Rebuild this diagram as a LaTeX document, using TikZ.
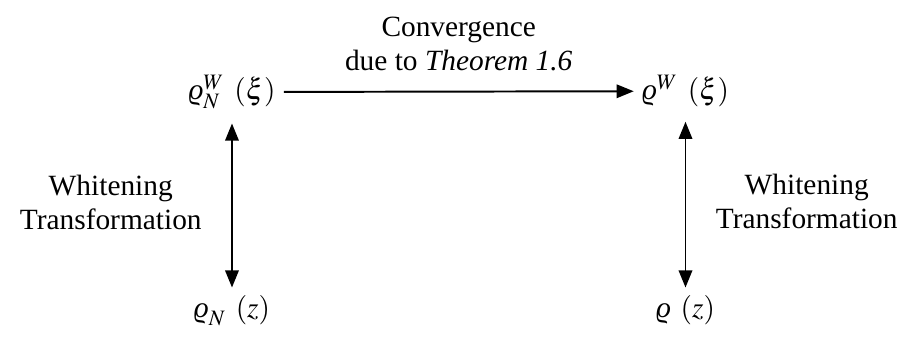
\documentclass[tikz,border=0pt]{standalone}
\usepackage{mathptmx}
\usepackage[no-math]{fontspec}
\setmainfont{Liberation Serif}
\usetikzlibrary{positioning, arrows.meta}
\newcommand{\vrho}{\mathord{\mbox{\itshape ϱ}}}

\begin{document}
\begin{tikzpicture}[
  thick,                                  % lines a bit heavier
  >={Triangle[length=7pt, width=5.5pt]},  % straight triangle tips
  font=\fontsize{12}{14}\selectfont,
  dens/.style={anchor=base, inner sep=3pt},
  lbl/.style={align=center, inner sep=0pt}
  ]
  \useasboundingbox (0,0) rectangle (13.12,4.85);

  % --- top row (whitened) ---
  \node [dens] (rhoNW) at (3.33,3.415) {$\vrho_N^W\mkern6mu(\xi)$};
  \node [dens] (rhoW)  at (9.84,3.415) {$\vrho^W\mkern6mu(\xi)$};

  % --- bottom row ---
  \node [dens] (rhoN) at (3.33,0.287) {$\vrho_N\mkern6mu(z)$};
  \node [dens] (rho)  at (9.84,0.287) {$\vrho\mkern6mu(z)$};

  % --- arrows ---
  \draw [->] (rhoNW) -- (rhoW)
    node[midway, above=8pt, lbl] {Convergence\\due to \emph{Theorem 1.6}};
  \draw [<->, shorten <=2.5pt] (rhoNW) -- (rhoN)
    node[midway, left=12pt, lbl] {Whitening\\Transformation};
  \draw [<->, shorten <=2.5pt] (rhoW) -- (rho)
    node[midway, right=12pt, lbl] {Whitening\\Transformation};

\end{tikzpicture}
\end{document}
